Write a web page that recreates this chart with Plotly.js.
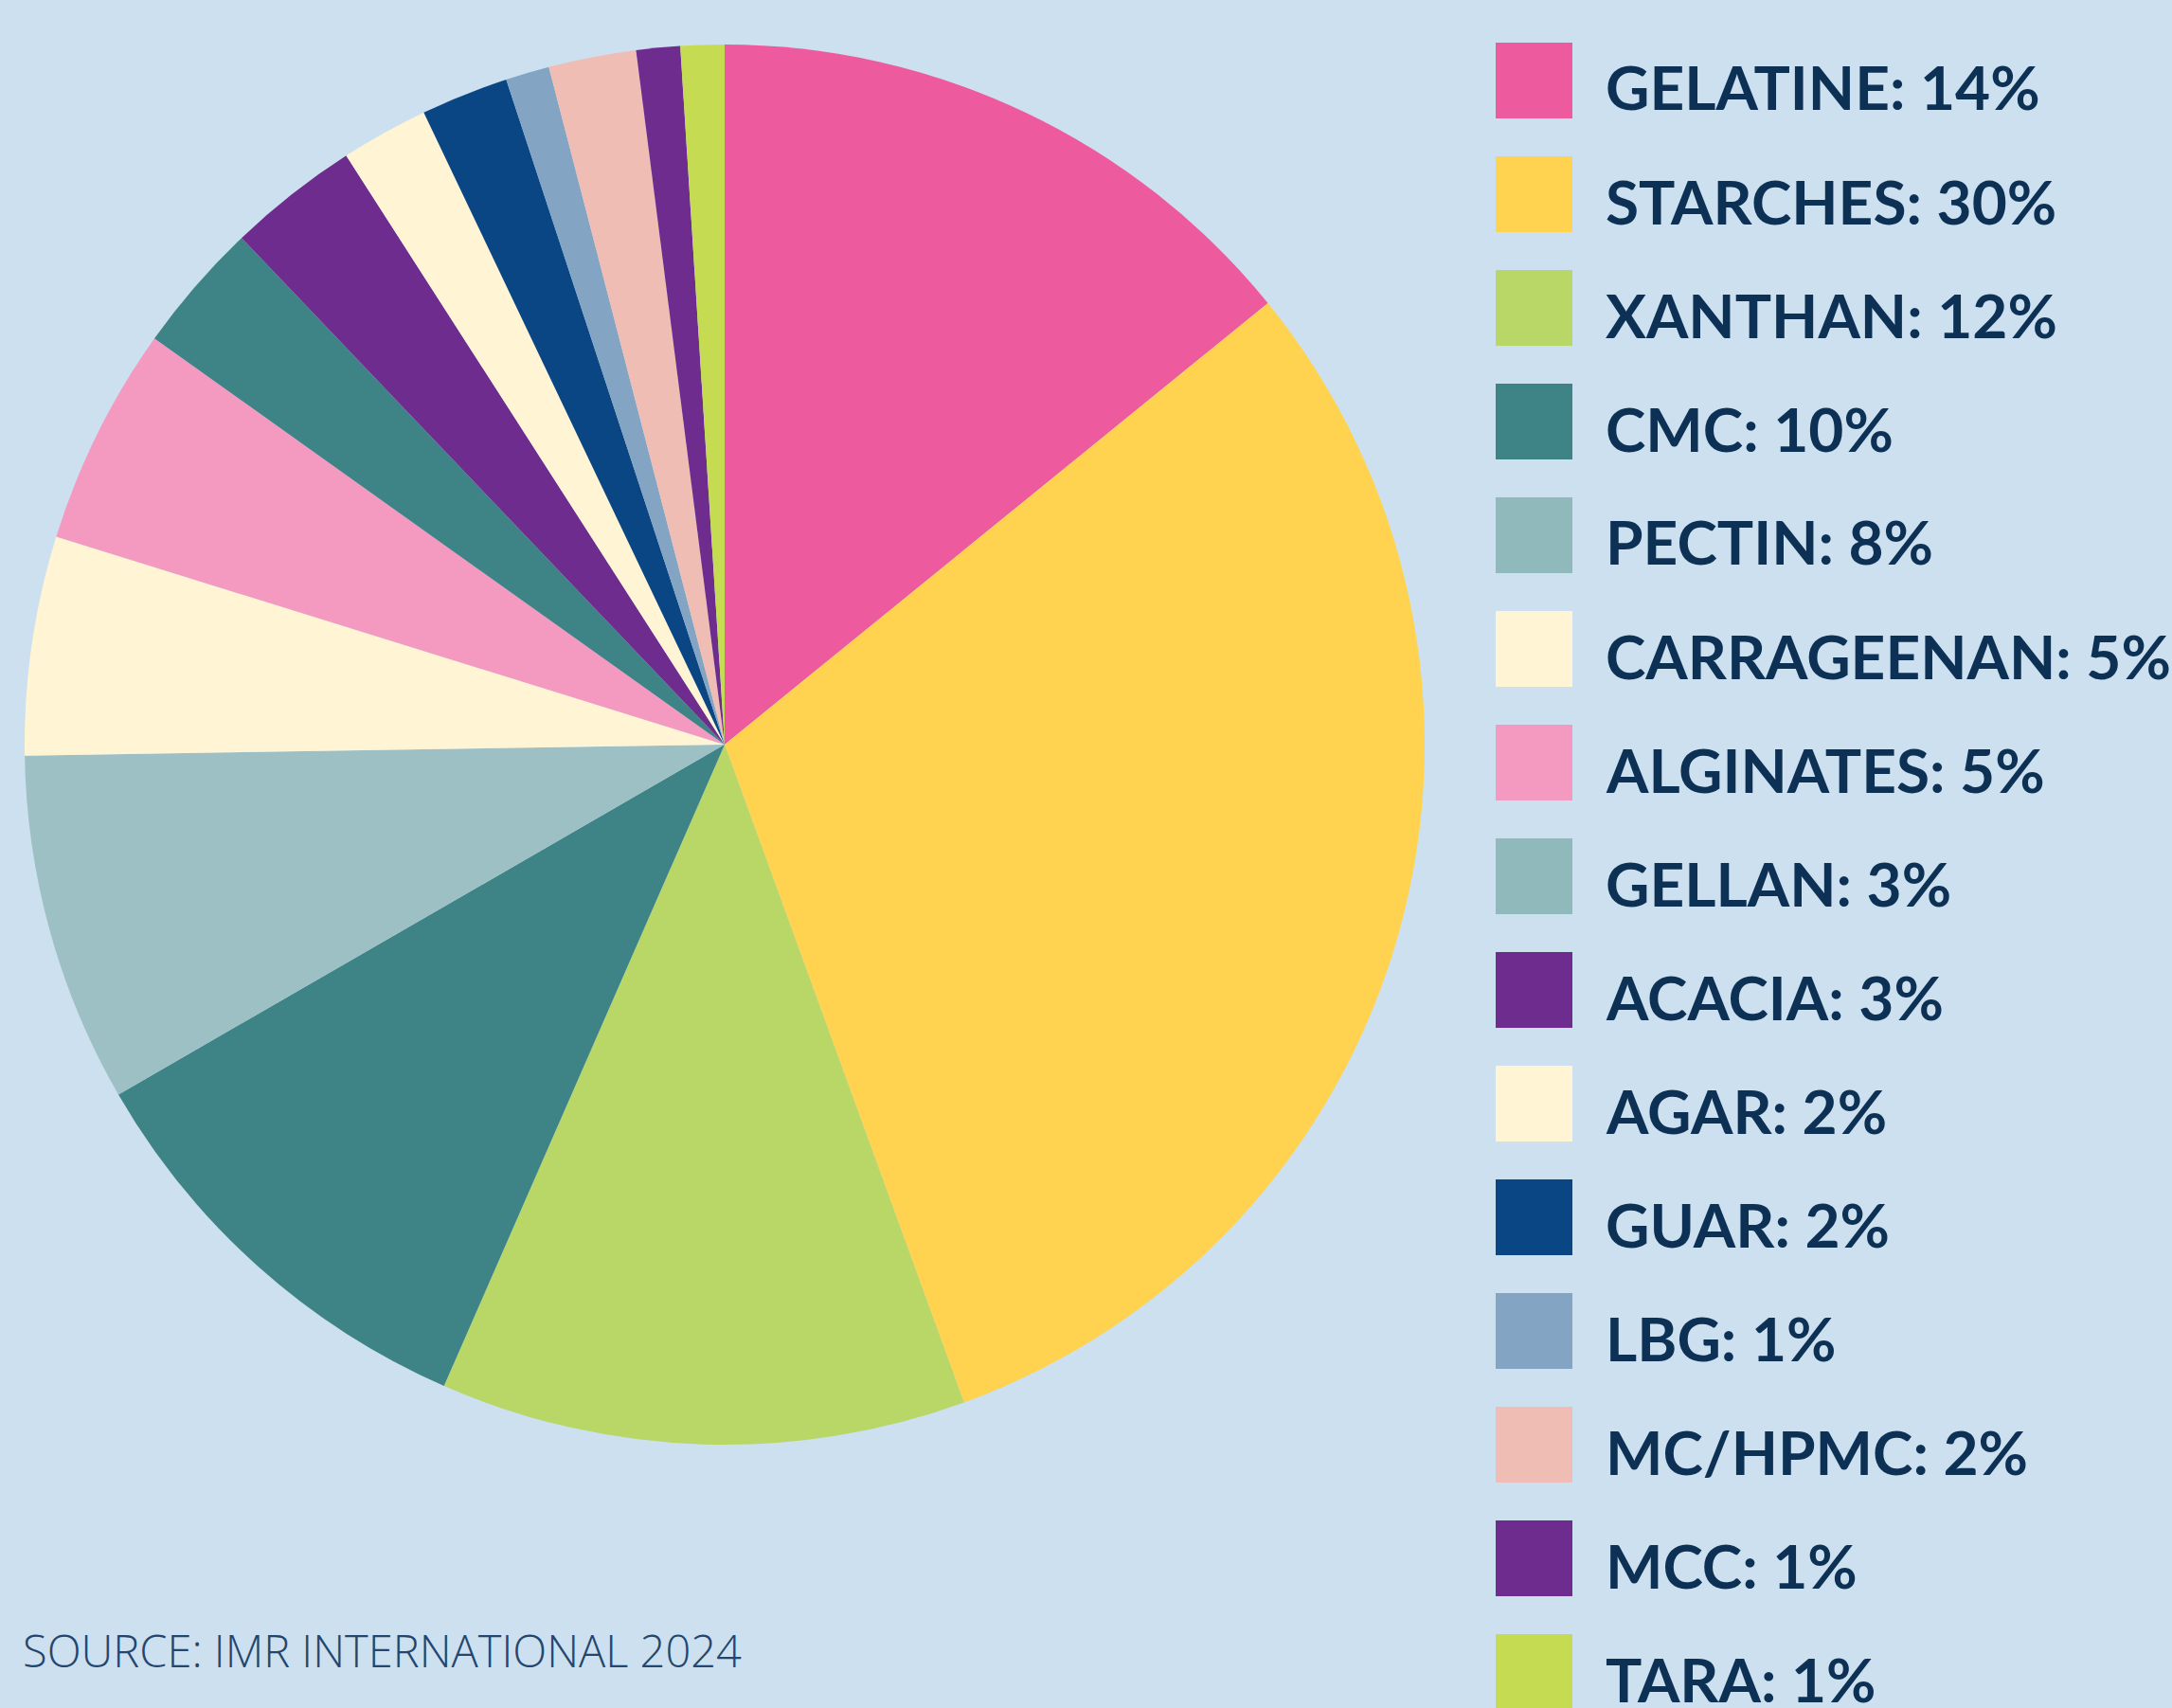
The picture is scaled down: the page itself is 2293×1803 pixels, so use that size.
<!DOCTYPE html>
<html>
<head>
<meta charset="utf-8">
<script src="https://cdn.plot.ly/plotly-3.0.1.min.js"></script>
<style>
html,body{margin:0;padding:0;background:#cce0ef;}
#chart{width:2293px;height:1803px;}
</style>
</head>
<body>
<div id="chart"></div>
<script>
const categories = ["GELATINE","STARCHES","XANTHAN","CMC","PECTIN","CARRAGEENAN","ALGINATES","GELLAN","ACACIA","AGAR","GUAR","LBG","MC/HPMC","MCC","TARA"];
const shares = [14,30,12,10,8,5,5,3,3,2,2,1,2,1,1];
const sliceColors = ["#ee5a9e","#ffd34f","#b8d766","#3e8486","#9dc0c4","#fff4d4","#f49ac1","#3e8486","#6d2c8e","#fff4d4","#0a4683","#84a4c4","#f0bdb4","#6d2c8e","#c5dc52"];
const legendColors = ["#ee5a9e","#ffd34f","#b8d766","#3e8486","#90b9bc","#fff4d4","#f49ac1","#90b9bc","#6d2c8e","#fff4d4","#0a4683","#84a4c4","#f0bdb4","#6d2c8e","#c5dc52"];
const sourceText = "SOURCE: IMR INTERNATIONAL 2024";

const W = 2293, H = 1803;
const cx = 765, cy = 786, R = 739;
const px = x => x / W;
const py = y => 1 - y / H;

const trace = {
  type: "pie",
  labels: categories,
  values: shares,
  sort: false,
  direction: "clockwise",
  rotation: 0,
  marker: {colors: sliceColors, line: {width: 0}},
  textinfo: "none",
  hoverinfo: "label+percent",
  showlegend: false,
  domain: {x: [px(cx - R), px(cx + R)], y: [py(cy + R), py(cy - R)]}
};

const shapes = [];
const annotations = [];
const swX0 = 1579, swW = 81, swH = 80, top0 = 45, pitch = 120;
categories.forEach((c, i) => {
  const y0 = top0 + i * pitch;
  shapes.push({
    type: "rect", xref: "paper", yref: "paper",
    x0: px(swX0), x1: px(swX0 + swW), y0: py(y0 + swH), y1: py(y0),
    fillcolor: legendColors[i], line: {width: 0}
  });
  annotations.push({
    xref: "paper", yref: "paper", x: px(1693), y: py(y0 + swH / 2 + 7),
    xanchor: "left", yanchor: "middle", showarrow: false,
    text: c + ": " + shares[i] + "%",
    font: {family: "Lato", size: 64, weight: 700, color: "#0d3055"}
  });
});
annotations.push({
  xref: "paper", yref: "paper", x: px(22), y: py(1742),
  xanchor: "left", yanchor: "middle", showarrow: false,
  text: sourceText,
  font: {family: "Open Sans", size: 47, weight: 300, color: "#24466e"}
});

const layout = {
  width: W, height: H,
  margin: {l: 0, r: 0, t: 0, b: 0, pad: 0},
  paper_bgcolor: "#cce0ef",
  plot_bgcolor: "#cce0ef",
  shapes: shapes,
  annotations: annotations,
  showlegend: false
};

Plotly.newPlot("chart", [trace], layout, {displayModeBar: false, staticPlot: true});
</script>
</body>
</html>
